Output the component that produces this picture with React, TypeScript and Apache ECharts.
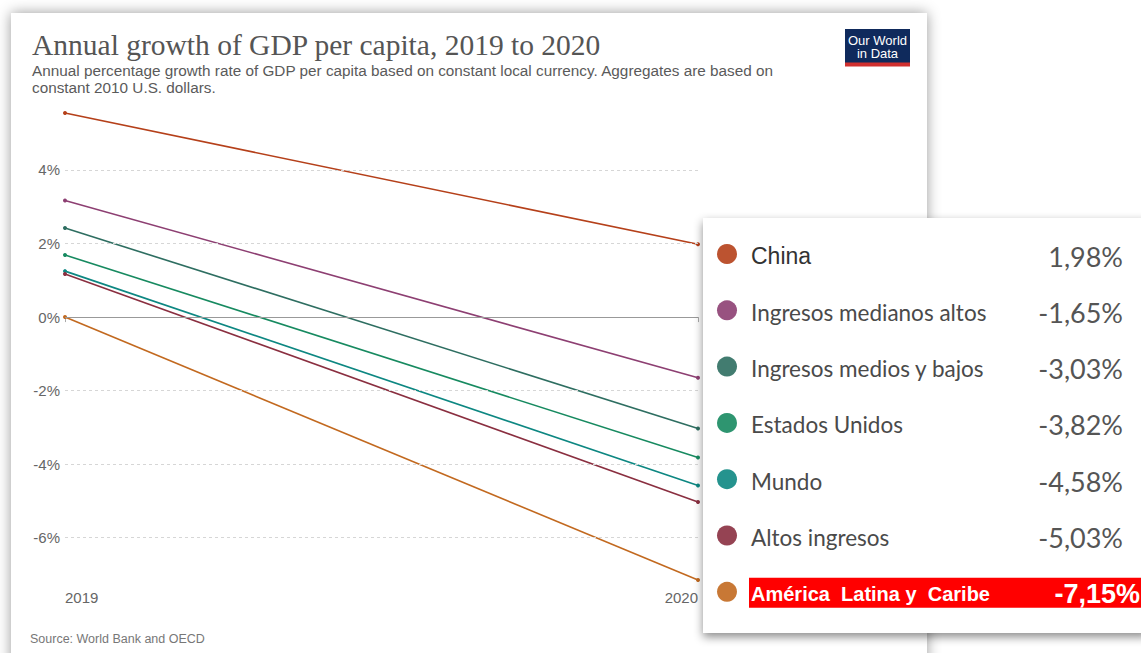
import React, { useEffect, useRef } from "react";
import * as echarts from "echarts";

const years = ["2019", "2020"];
const names = [
  "China",
  "Ingresos medianos altos",
  "Ingresos medios y bajos",
  "Estados Unidos",
  "Mundo",
  "Altos ingresos",
  "América  Latina y  Caribe",
];
const values2019 = [5.55, 3.17, 2.42, 1.69, 1.25, 1.17, 0.0];
const values2020 = [1.98, -1.65, -3.03, -3.82, -4.58, -5.03, -7.15];
const colors = ["#b5401a", "#8d3f72", "#2e6e61", "#178a60", "#0d8782", "#8a2f40", "#c2691f"];
const yTicks = [-6, -4, -2, 0, 2, 4];

const titleText = "Annual growth of GDP per capita, 2019 to 2020";
const subtitleText =
  "Annual percentage growth rate of GDP per capita based on constant local currency. Aggregates are based on\nconstant 2010 U.S. dollars.";
const sourceText = "Source: World Bank and OECD";

const fmt = (v: number) => v.toFixed(2).replace(".", ",") + "%";

export default function App() {
  const ref = useRef<HTMLDivElement>(null);
  useEffect(() => {
    if (!ref.current) return;
    const chart = echarts.init(ref.current, null, { renderer: "svg" });
    const series: any[] = names.map((n, i) => ({
      name: n,
      type: "line",
      data: [values2019[i], values2020[i]],
      symbol: "circle",
      symbolSize: 4,
      lineStyle: { width: 1.6, color: colors[i] },
      itemStyle: { color: colors[i] },
      z: 3,
    }));
    series[0].markLine = {
      silent: true,
      symbol: "none",
      label: { show: false },
      animation: false,
      data: yTicks.map((t) => ({
        yAxis: t,
        lineStyle: t === 0
          ? { type: "solid", color: "#999", width: 1 }
          : { type: [3, 3], color: "#d6d6d6", width: 1 },
      })),
    };

    const rowY = names.map((_, i) => 254 + i * 56.3);
    const last = names.length - 1;
    const legendEls: any[] = [
      {
        type: "rect",
        shape: { x: 703, y: 218, width: 445, height: 415 },
        style: { fill: "#fff", shadowBlur: 10, shadowOffsetY: 4, shadowColor: "rgba(0,0,0,0.45)" },
        z: 50,
      },
      {
        type: "rect",
        shape: { x: 749, y: rowY[last] - 14, width: 400, height: 30 },
        style: { fill: "#ff0000" },
        z: 51,
      },
    ];
    names.forEach((n, i) => {
      legendEls.push({
        type: "circle",
        shape: { cx: 727, cy: rowY[i], r: 10 },
        style: { fill: colors[i], opacity: 0.9 },
        z: 52,
      });
      const isLast = i === last;
      legendEls.push({
        type: "text",
        x: 751,
        y: rowY[i] + 2,
        style: {
          text: n,
          fill: isLast ? "#fff" : i === 0 ? "#333" : "#4a4a4a",
          font: isLast
            ? "bold 20px 'Liberation Sans'"
            : i === 0
            ? "23px 'Liberation Sans'"
            : "22.5px Lato",
          verticalAlign: "middle",
          align: "left",
        },
        z: 53,
      });
      legendEls.push({
        type: "text",
        x: isLast ? 1140 : 1123,
        y: rowY[i] + 2,
        style: {
          text: fmt(values2020[i]),
          fill: isLast ? "#fff" : "#555",
          font: isLast ? "bold 27px 'Liberation Sans'" : "27px Lato",
          verticalAlign: "middle",
          align: "right",
        },
        z: 53,
      });
    });

    chart.setOption({
      animation: false,
      backgroundColor: "#ffffff",
      title: [
        {
          text: titleText,
          left: 27,
          top: 25,
          textStyle: { fontFamily: "Liberation Serif", fontSize: 29.5, fontWeight: "normal", color: "#555" },
        },
        {
          text: subtitleText,
          left: 27,
          top: 57,
          textStyle: { fontFamily: "Liberation Sans", fontSize: 15.3, lineHeight: 17, fontWeight: "normal", color: "#5a5a5a" },
        },
        {
          text: sourceText,
          left: 25,
          top: 627,
          textStyle: { fontFamily: "Liberation Sans", fontSize: 12.5, fontWeight: "normal", color: "#777" },
        },
      ],
      grid: { left: 65, top: 113, width: 633, height: 467, containLabel: false },
      xAxis: {
        type: "category",
        data: years,
        boundaryGap: false,
        axisLine: { show: false },
        axisTick: { show: true, length: 5, lineStyle: { color: "#aaa" } },
        axisLabel: {
          color: "#666",
          fontSize: 15,
          fontFamily: "Liberation Sans",
          margin: 10,
          alignMinLabel: "left",
          alignMaxLabel: "right",
        },
        splitLine: { show: false },
      },
      yAxis: {
        type: "value",
        min: -7.15,
        max: 5.55,
        splitNumber: 6,
        axisLine: { show: false },
        axisTick: { show: false },
        splitLine: { show: false },
        axisLabel: {
          color: "#666",
          fontSize: 15,
          fontFamily: "Liberation Sans",
          margin: 5,
          showMinLabel: false,
          showMaxLabel: false,
          formatter: (v: number) => (yTicks.some((t) => Math.abs(t - v) < 1e-6) ? v + "%" : ""),
        },
      },
      series,
      graphic: [
        {
          type: "rect",
          shape: { x: 11, y: 13, width: 916, height: 720 },
          style: { fill: "#fff", shadowBlur: 14, shadowColor: "rgba(0,0,0,0.4)" },
          z: -10,
        },
        {
          type: "group",
          z: 10,
          children: [
            { type: "rect", shape: { x: 845, y: 29, width: 65, height: 34 }, style: { fill: "#0f2a5c" } },
            { type: "rect", shape: { x: 845, y: 62.5, width: 65, height: 4 }, style: { fill: "#d0302f" } },
            {
              type: "text",
              x: 877.5,
              y: 40,
              style: { text: "Our World", fill: "#fff", font: "13px 'Liberation Sans Narrow', 'Liberation Sans'", align: "center", verticalAlign: "middle" },
            },
            {
              type: "text",
              x: 877.5,
              y: 53,
              style: { text: "in Data", fill: "#fff", font: "13px 'Liberation Sans Narrow', 'Liberation Sans'", align: "center", verticalAlign: "middle" },
            },
          ],
        },
        { type: "group", z: 50, children: legendEls },
      ],
    });
    return () => chart.dispose();
  }, []);
  return (
    <div
      ref={ref}
      style={{ position: "absolute", left: 0, top: 0, width: 1141, height: 653 }}
    />
  );
}
